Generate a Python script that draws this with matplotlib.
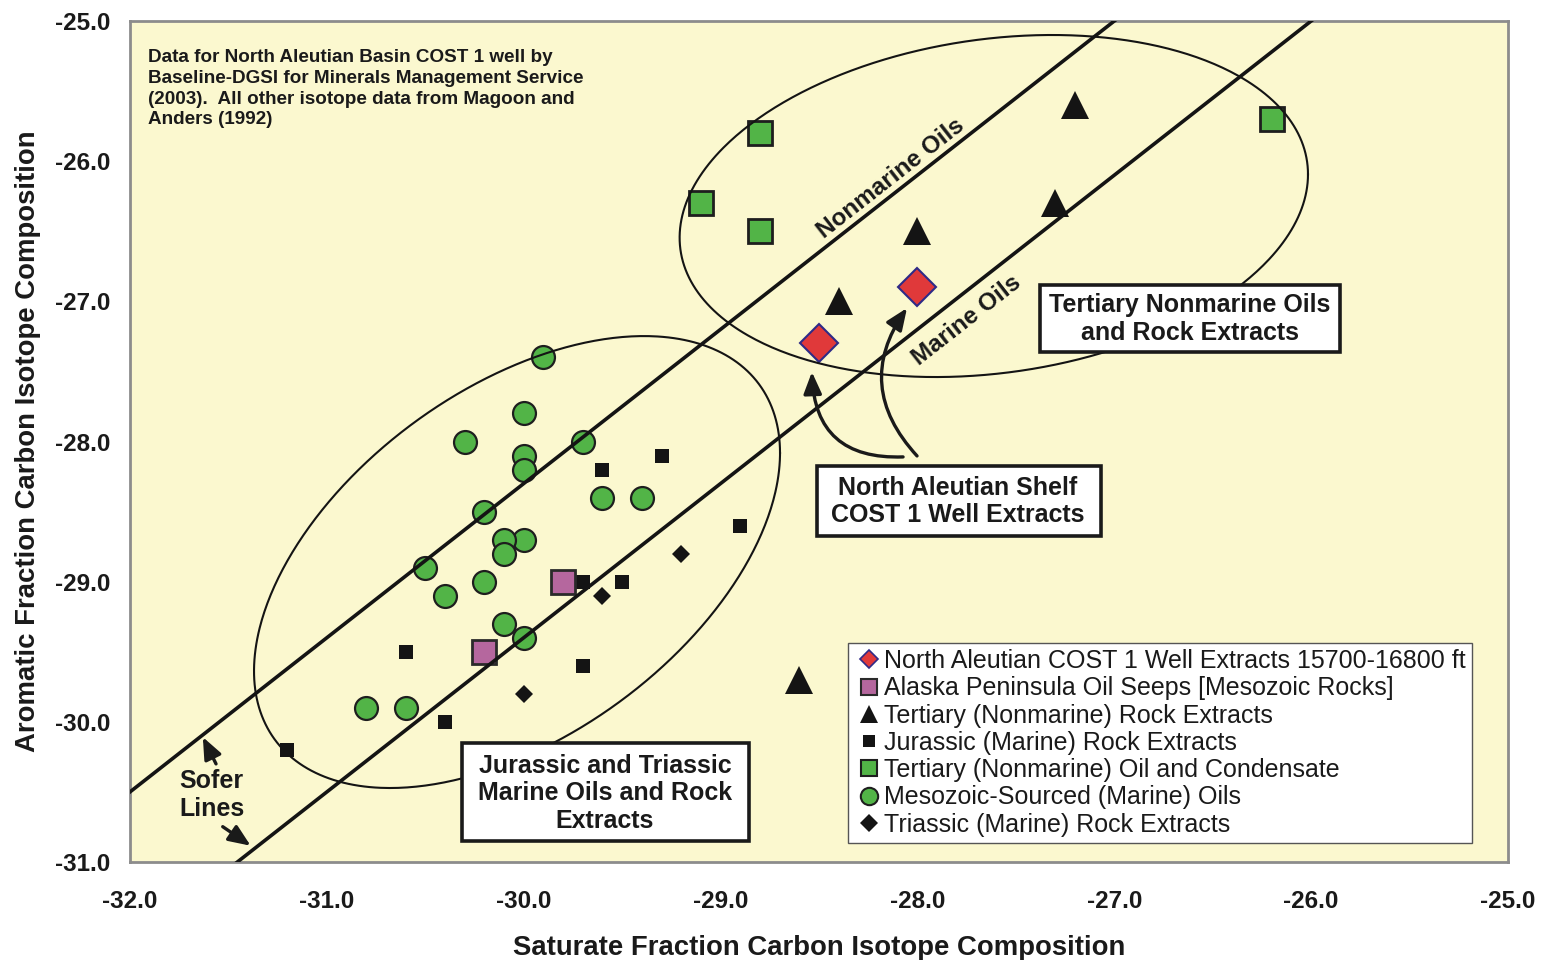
import numpy as np
import matplotlib
matplotlib.use("Agg")
import matplotlib.pyplot as plt
from matplotlib.lines import Line2D
from matplotlib.patches import Rectangle

plt.rcParams['font.family'] = ['Liberation Sans', 'DejaVu Sans']

# ---------------- data ----------------
nas_x = [-28.0, -28.5]
nas_y = [-26.9, -27.3]

seep_x = [-29.8, -30.2]
seep_y = [-29.0, -29.5]

tert_rock_x = [-28.0, -28.4, -27.2, -27.3, -28.6]
tert_rock_y = [-26.5, -27.0, -25.6, -26.3, -29.7]

jur_x = [-29.6, -29.3, -29.7, -29.5, -30.6, -29.7, -30.4, -31.2, -28.9]
jur_y = [-28.2, -28.1, -29.0, -29.0, -29.5, -29.6, -30.0, -30.2, -28.6]

tert_oil_x = [-28.8, -29.1, -28.8, -26.2]
tert_oil_y = [-25.8, -26.3, -26.5, -25.7]

meso_x = [-29.9, -30.0, -30.3, -30.0, -30.0, -29.7, -29.6, -29.4, -30.2, -30.0,
          -30.1, -30.1, -30.5, -30.4, -30.2, -30.1, -30.0, -30.8, -30.6]
meso_y = [-27.4, -27.8, -28.0, -28.1, -28.2, -28.0, -28.4, -28.4, -28.5, -28.7,
          -28.7, -28.8, -28.9, -29.1, -29.0, -29.3, -29.4, -29.9, -29.9]

trias_x = [-29.2, -29.6, -30.0]
trias_y = [-28.8, -29.1, -29.8]

# Sofer lines: aromatic = slope * saturate + intercept
sofer_slope = 1.1
sofer_intercepts = [4.7, 3.6]

labels = [
    "North Aleutian COST 1 Well Extracts 15700-16800 ft",
    "Alaska Peninsula Oil Seeps [Mesozoic Rocks]",
    "Tertiary (Nonmarine) Rock Extracts",
    "Jurassic (Marine) Rock Extracts",
    "Tertiary (Nonmarine) Oil and Condensate",
    "Mesozoic-Sourced (Marine) Oils",
    "Triassic (Marine) Rock Extracts",
]

xticks = [-32.0, -31.0, -30.0, -29.0, -28.0, -27.0, -26.0, -25.0]
yticks = [-31.0, -30.0, -29.0, -28.0, -27.0, -26.0, -25.0]

# ---------------- style ----------------
BG = '#FBF8CF'
GREEN = '#52B447'
PINK = '#B5679E'
RED = '#E0393A'
NAVY = '#2E2A87'
BLACK = '#141414'
EDGE = '#1e1e1e'
TXT = '#1a1a1a'

fig = plt.figure(figsize=(15.43, 9.6), dpi=100)
ax = fig.add_axes([130 / 1543, 98 / 960, 1378 / 1543, 841 / 960])
ax.set_facecolor(BG)
ax.set_xlim(-32, -25)
ax.set_ylim(-31, -25)
ax.set_xticks(xticks)
ax.set_yticks(yticks)
ax.set_xticklabels([f"{v:.1f}" for v in xticks], fontsize=17.5, fontweight='bold', color=TXT)
ax.set_yticklabels([f"{v:.1f}" for v in yticks], fontsize=17.5, fontweight='bold', color=TXT)
ax.tick_params(axis='x', length=0, pad=20)
ax.tick_params(axis='y', length=0, pad=14)
for s in ax.spines.values():
    s.set_color('#8c8c8c')
    s.set_linewidth(2)

ax.set_xlabel("Saturate Fraction Carbon Isotope Composition", fontsize=19.8,
              fontweight='bold', labelpad=16, color=TXT)
ax.set_ylabel("Aromatic Fraction Carbon Isotope Composition", fontsize=19.8,
              fontweight='bold', labelpad=10, color=TXT)

# ---------------- markers ----------------
ax.plot(jur_x, jur_y, 's', ms=10.5, mfc=BLACK, mec=BLACK, mew=0, ls='none', zorder=2)
ax.plot(trias_x, trias_y, 'D', ms=9.5, mfc=BLACK, mec=BLACK, mew=0, ls='none', zorder=2)
ax.plot(meso_x, meso_y, 'o', ms=16.5, mfc=GREEN, mec=EDGE, mew=1.6, ls='none', zorder=2)
ax.plot(seep_x, seep_y, 's', ms=17.5, mfc=PINK, mec='#2a2a2a', mew=2, ls='none', zorder=2)
ax.plot(tert_oil_x, tert_oil_y, 's', ms=17.5, mfc=GREEN, mec=EDGE, mew=2, ls='none', zorder=2)
ax.plot(tert_rock_x, tert_rock_y, '^', ms=20, mfc=BLACK, mec=BLACK, mew=0, ls='none', zorder=2)
ax.plot(nas_x, nas_y, 'D', ms=19, mfc=RED, mec=NAVY, mew=1.5, ls='none', zorder=2)

# ---------------- Sofer lines ----------------
lx = np.array([-32.5, -24.5])
for b in sofer_intercepts:
    ax.plot(lx, sofer_slope * lx + b, color=BLACK, lw=2.6, zorder=4)

# ---------------- ellipses ----------------
t = np.linspace(0, 2 * np.pi, 500)
for cx, cy, a, c, d in [(-30.034, -28.86, 1.336, 0.778, 1.412),
                        (-27.612, -26.32, 1.596, 0.226, 1.199)]:
    ax.plot(cx + a * np.cos(t), cy + c * np.cos(t) + d * np.sin(t),
            color=BLACK, lw=1.5, zorder=3)

# ---------------- line labels ----------------
ang = np.degrees(np.arctan(sofer_slope * (841 / 6) / (1378 / 7)))
ax.text(-28.134, -26.12, "Nonmarine Oils", rotation=ang, rotation_mode='anchor',
        ha='center', va='center', fontsize=17.5, fontweight='bold', color=TXT, zorder=6)
ax.text(-27.748, -27.133, "Marine Oils", rotation=ang, rotation_mode='anchor',
        ha='center', va='center', fontsize=17.5, fontweight='bold', color=TXT, zorder=6)

# ---------------- boxes ----------------
def label_box(x0, x1, y0, y1, tx, ty, s):
    ax.add_patch(Rectangle((x0, y0), x1 - x0, y1 - y0, fc='white', ec=TXT,
                           lw=2.6, zorder=7))
    ax.text(tx, ty, s, ha='center', va='center', fontsize=18, fontweight='bold',
            color=TXT, linespacing=1.2, zorder=8)

label_box(-27.377, -25.853, -27.361, -26.883, -26.615, -27.126,
          "Tertiary Nonmarine Oils\nand Rock Extracts")
label_box(-28.510, -27.068, -28.674, -28.175, -27.794, -28.428,
          "North Aleutian Shelf\nCOST 1 Well Extracts")
label_box(-30.314, -28.856, -30.850, -30.151, -29.587, -30.51,
          "Jurassic and Triassic\nMarine Oils and Rock\nExtracts")

ax.text(0.013, 0.967,
        "Data for North Aleutian Basin COST 1 well by\n"
        "Baseline-DGSI for Minerals Management Service\n"
        "(2003).  All other isotope data from Magoon and\n"
        "Anders (1992)",
        transform=ax.transAxes, ha='left', va='top', fontsize=13.6,
        fontweight='bold', color=TXT, linespacing=1.3, zorder=7)

ax.text(-31.585, -30.52, "Sofer\nLines", ha='center', va='center', fontsize=18,
        fontweight='bold', color=TXT, linespacing=1.2, zorder=7)

# ---------------- arrows ----------------
def arrow(tail, head, rad):
    ax.annotate('', xy=head, xytext=tail,
                arrowprops=dict(arrowstyle='-|>,head_length=0.6,head_width=0.25',
                                connectionstyle=f'arc3,rad={rad}', lw=2.4,
                                color=TXT, shrinkA=0, shrinkB=0,
                                mutation_scale=22), zorder=8)

arrow((-28.073, -28.11), (-28.536, -27.504), -0.5)
arrow((-28.002, -28.103), (-28.053, -27.048), -0.4)
arrow((-31.563, -30.30), (-31.630, -30.109), 0.0)
arrow((-31.529, -30.748), (-31.387, -30.884), 0.0)

# ---------------- legend ----------------
handles = [
    Line2D([], [], marker='D', ls='none', ms=9.5, mfc=RED, mec=NAVY, mew=1.2),
    Line2D([], [], marker='s', ls='none', ms=12, mfc=PINK, mec='#2a2a2a', mew=1.5),
    Line2D([], [], marker='^', ls='none', ms=13, mfc=BLACK, mec=BLACK, mew=0),
    Line2D([], [], marker='s', ls='none', ms=9, mfc=BLACK, mec=BLACK, mew=0),
    Line2D([], [], marker='s', ls='none', ms=12, mfc=GREEN, mec=EDGE, mew=1.5),
    Line2D([], [], marker='o', ls='none', ms=12.5, mfc=GREEN, mec=EDGE, mew=1.5),
    Line2D([], [], marker='D', ls='none', ms=9.5, mfc=BLACK, mec=BLACK, mew=0),
]
leg = ax.legend(handles, labels, loc='lower left', bbox_to_anchor=(0.521, 0.0226),
                prop={'size': 18}, frameon=True, fancybox=False, framealpha=1,
                edgecolor='#555555', handlelength=1.15, handletextpad=0.05,
                labelspacing=0.13, borderpad=0.25, borderaxespad=0)
leg.get_frame().set_linewidth(1.0)
leg.set_zorder(9)
for txt in leg.get_texts():
    txt.set_color(TXT)

fig.savefig("out.png", dpi=100, facecolor='white')
